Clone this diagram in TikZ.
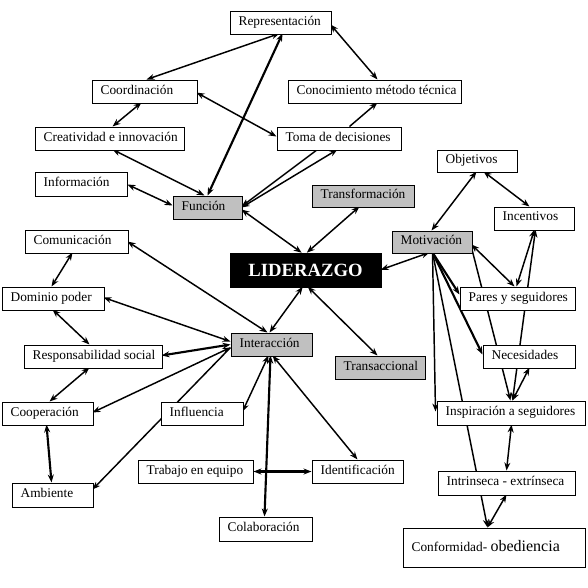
\documentclass[tikz,border=0pt]{standalone}
\usepackage{fontspec}
\setmainfont{Liberation Serif}
\usetikzlibrary{arrows.meta,calc,backgrounds}
\definecolor{silverbox}{RGB}{192,192,192}
\newcommand\nbx[7]{%
  \pgfmathsetmacro\nbxw{(#4-#2)*0.75-13}%
  \pgfmathsetmacro\nbxh{(#5-#3)*0.75}%
  \node[#6, minimum height=\nbxh pt] (#1) at ({(#2+#4)/2},{(#3+#5)/2}) {\makebox[\nbxw pt][l]{\rule[-3pt]{0pt}{9.3pt}#7}};}
\begin{document}
\begin{tikzpicture}[x=0.75pt, y=-0.75pt,
  >={Stealth[length=6pt,width=4.5pt]},
  box/.style={draw, fill=white, line width=0.75pt, inner xsep=6.5pt, inner ysep=0pt, font=\fontsize{10}{12}\selectfont},
  gbox/.style={box, fill=silverbox},
  dbl/.style={<->, line width=1.1pt},
  sgl/.style={->, line width=1.1pt},
  thk/.style={line width=1.6pt}]
\useasboundingbox (0,0) rectangle (588,587);
\nbx{rep}{230}{11}{331}{34}{box}{Representación}
\nbx{coo}{92}{80}{197}{103}{box}{Coordinación}
\nbx{con}{288}{80}{461}{103}{box}{Conocimiento método técnica}
\nbx{cre}{35}{127}{184}{150}{box}{Creatividad e innovación}
\nbx{tom}{277}{127}{401}{150}{box}{Toma de decisiones}
\nbx{obj}{437}{150}{517}{172}{box}{Objetivos}
\nbx{inf}{35}{172}{127}{196}{box}{Información}
\nbx{fun}{173}{196}{242}{219}{gbox}{Función}
\nbx{trf}{312}{185}{414}{207}{gbox}{Transformación}
\nbx{inc}{494}{207}{574}{230}{box}{Incentivos}
\nbx{com}{25}{230}{128}{253}{box}{Comunicación}
\nbx{mot}{392}{231}{472}{253}{gbox}{Motivación}
\node[draw, fill=black, text=white, font=\bfseries\fontsize{14}{16}\selectfont, minimum width=113.25pt, minimum height=25.5pt, inner sep=0pt] (lid) at (305.5,270) {LIDERAZGO};
\nbx{par}{460}{287}{575}{310}{box}{Pares y seguidores}
\nbx{dom}{2}{287}{104}{310}{box}{Dominio poder}
\nbx{int}{231}{333}{312}{356}{gbox}{Interacción}
\nbx{res}{24}{345}{162}{368}{box}{Responsabilidad social}
\nbx{nec}{483}{345}{575}{368}{box}{Necesidades}
\nbx{trc}{335}{356}{425}{379}{gbox}{Transaccional}
\nbx{coop}{2}{402}{93}{425}{box}{Cooperación}
\nbx{infl}{161}{402}{243}{425}{box}{Influencia}
\nbx{ins}{437}{401}{585}{425}{box}{Inspiración a seguidores}
\nbx{teq}{138}{460}{253}{483}{box}{Trabajo en equipo}
\nbx{ide}{312}{460}{403}{483}{box}{Identificación}
\nbx{ie}{438}{471}{575}{495}{box}{Intrinseca - extrínseca}
\nbx{amb}{12}{483}{93}{507}{box}{Ambiente}
\nbx{col}{219}{517}{312}{541}{box}{Colaboración}
\nbx{conf}{403}{528}{585}{567}{box}{Conformidad- {\fontsize{12}{14}\selectfont obediencia}}
\begin{pgfonlayer}{background}
\draw[dbl] ($(rep.north west)+(50,23)$) -- ($(coo.north west)+(55,0)$);
\draw[dbl,thk] ($(rep.north west)+(53,23)$) -- ($(fun.north west)+(35,0)$);
\draw[dbl] ($(rep.north west)+(101,14)$) -- ($(con.north west)+(90,0)$);
\draw[dbl] ($(coo.north west)+(105,13)$) -- ($(tom.north west)+(0,10)$);
\draw[dbl] ($(coo.north west)+(50,23)$) -- ($(cre.north west)+(78,0)$);
\draw[dbl] ($(cre.north west)+(78,23)$) -- ($(fun.north west)+(32,0)$);
\draw[dbl] ($(inf.north west)+(93,13)$) -- ($(fun.north west)+(0,10)$);
\draw[sgl] ($(tom.north west)+(73,0)$) -- ($(con.north west)+(90,23)$);
\draw[sgl] ($(tom.north west)+(41,23)$) -- ($(fun.north west)+(69,11)$);
\draw[dbl] ($(tom.north west)+(61,23)$) -- ($(fun.north west)+(69,12)$);
\draw[dbl] ($(fun.north west)+(69,14)$) -- ($(lid.north west)+(72,0)$);
\draw[dbl] ($(trf.north west)+(48,22)$) -- ($(lid.north west)+(77,0)$);
\draw[dbl] ($(mot.north west)+(38,22)$) -- ($(lid.north west)+(151,17)$);
\draw[dbl] ($(lid.north west)+(73,34)$) -- ($(int.north west)+(39,0)$);
\draw[dbl] ($(lid.north west)+(78,34)$) -- ($(trc.north west)+(43,0)$);
\draw[dbl] ($(com.north west)+(103,12)$) -- ($(int.north west)+(37,0)$);
\draw[dbl] ($(com.north west)+(48,23)$) -- ($(dom.north west)+(50,0)$);
\draw[dbl] ($(dom.north west)+(102,11)$) -- ($(int.north west)+(0,9)$);
\draw[dbl] ($(dom.north west)+(51,23)$) -- ($(res.north west)+(66,0)$);
\draw[dbl,thk] ($(res.north west)+(138,11)$) -- ($(int.north west)+(0,12)$);
\draw[dbl] ($(res.north west)+(66,23)$) -- ($(coop.north west)+(48,0)$);
\draw[dbl] ($(int.north west)+(0,15)$) -- ($(coop.north west)+(91,11)$);
\draw[sgl] ($(int.north west)+(0,15)$) -- ($(amb.north west)+(81,7)$);
\draw[dbl] ($(int.north west)+(38,23)$) -- ($(infl.north west)+(82,10)$);
\draw[dbl,thk] ($(int.north west)+(40,23)$) -- ($(col.north west)+(46,0)$);
\draw[dbl] ($(int.north west)+(42,23)$) -- ($(ide.north west)+(46,0)$);
\draw[dbl,thk] (teq.east) -- (ide.west);
\draw[dbl,thk] ($(coop.north west)+(45,23)$) -- ($(amb.north west)+(40,0)$);
\draw[dbl] ($(obj.north west)+(40,22)$) -- ($(mot.north west)+(40,0)$);
\draw[dbl] ($(obj.north west)+(47,22)$) -- ($(inc.north west)+(36,0)$);
\draw[dbl] ($(mot.north west)+(80,14)$) -- ($(par.north west)+(55,0)$);
\draw[dbl] ($(inc.north west)+(41,23)$) -- ($(par.north west)+(57,0)$);
\draw[dbl] ($(inc.north west)+(42,23)$) -- ($(ins.north west)+(76,0)$);
\draw[sgl] ($(mot.north west)+(80,17)$) -- ($(ins.north west)+(74,0)$);
\draw[sgl,thk] ($(mot.north west)+(41,22)$) -- ($(par.north west)+(0,8)$);
\draw[sgl,thk] ($(mot.north west)+(41,22)$) -- ($(nec.north west)+(0,10)$);
\draw[sgl] ($(mot.north west)+(41,22)$) -- ($(ins.north west)+(-1,11)$);
\draw[sgl] ($(mot.north west)+(41,22)$) -- ($(conf.north west)+(85,0)$);
\draw[dbl] ($(nec.north west)+(47,23)$) -- ($(ins.north west)+(76,0)$);
\draw[dbl] ($(ins.north west)+(75,24)$) -- ($(ie.north west)+(69,0)$);
\draw[dbl] ($(ie.north west)+(69,24)$) -- ($(conf.north west)+(85,0)$);
\end{pgfonlayer}
\end{tikzpicture}
\end{document}
